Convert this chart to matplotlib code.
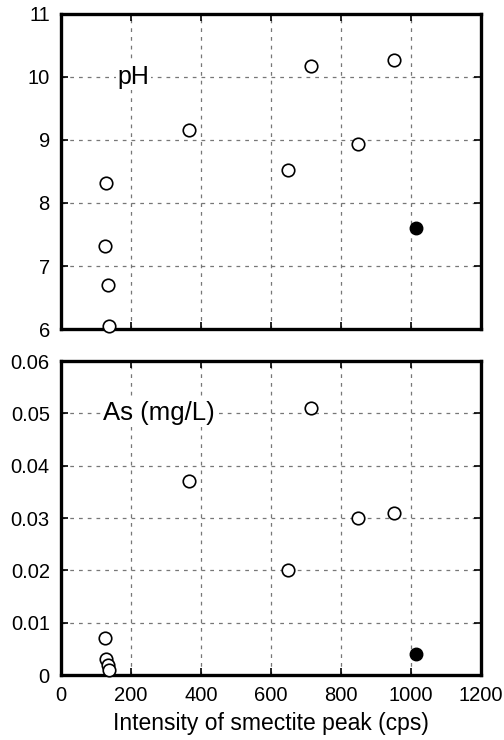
import matplotlib.pyplot as plt

plt.rcParams['font.family'] = ['Liberation Sans', 'DejaVu Sans']

# intensity of smectite peak (cps) for each sample
intensity = [128, 127, 134, 137, 365, 650, 715, 850, 953]
ph = [8.32, 7.32, 6.70, 6.05, 9.16, 8.53, 10.18, 8.93, 10.27]
arsenic = [0.003, 0.007, 0.002, 0.001, 0.037, 0.020, 0.051, 0.030, 0.031]

# the one sample drawn as a filled circle
intensity_filled = [1014]
ph_filled = [7.60]
arsenic_filled = [0.004]

x_ticks = [0, 200, 400, 600, 800, 1000, 1200]
ph_ticks = [6, 7, 8, 9, 10, 11]
as_ticks = [0, 0.01, 0.02, 0.03, 0.04, 0.05, 0.06]
as_labels = ['0', '0.01', '0.02', '0.03', '0.04', '0.05', '0.06']

fig = plt.figure(figsize=(5.04, 7.40), dpi=100)
ax1 = fig.add_axes([0.121, 0.5554, 0.833, 0.4257])
ax2 = fig.add_axes([0.121, 0.0878, 0.833, 0.4243])


def style(ax):
    ax.set_xlim(0, 1200)
    ax.set_xticks(x_ticks)
    ax.grid(True, color='#777777', linestyle=(0, (3, 4)), linewidth=0.9)
    ax.set_axisbelow(True)
    for sp in ax.spines.values():
        sp.set_linewidth(2.4)
    ax.tick_params(direction='in', length=5, width=1.2, top=True, right=True,
                   labelsize=14.5, pad=8, colors='black')


# pH panel
style(ax1)
ax1.plot(intensity, ph, 'o', ms=9, mfc='white', mec='black', mew=1.2, zorder=5, clip_on=False)
ax1.plot(intensity_filled, ph_filled, 'o', ms=9, mfc='black', mec='black', zorder=5)
ax1.set_ylim(6, 11)
ax1.set_yticks(ph_ticks)
ax1.tick_params(labelbottom=False)
ax1.text(162, 10, 'pH', fontsize=18, va='center', ha='left',
         bbox=dict(facecolor='white', edgecolor='none', pad=1))

# As panel
style(ax2)
ax2.plot(intensity, arsenic, 'o', ms=9, mfc='white', mec='black', mew=1.2, zorder=5, clip_on=False)
ax2.plot(intensity_filled, arsenic_filled, 'o', ms=9, mfc='black', mec='black', zorder=5)
ax2.set_ylim(0, 0.06)
ax2.set_yticks(as_ticks)
ax2.set_yticklabels(as_labels)
ax2.text(120, 0.05, 'As (mg/L)', fontsize=18.5, va='center', ha='left',
         bbox=dict(facecolor='white', edgecolor='none', pad=1))
ax2.set_xlabel('Intensity of smectite peak (cps)', fontsize=16.5, labelpad=5)

plt.savefig('out.png', dpi=100)
